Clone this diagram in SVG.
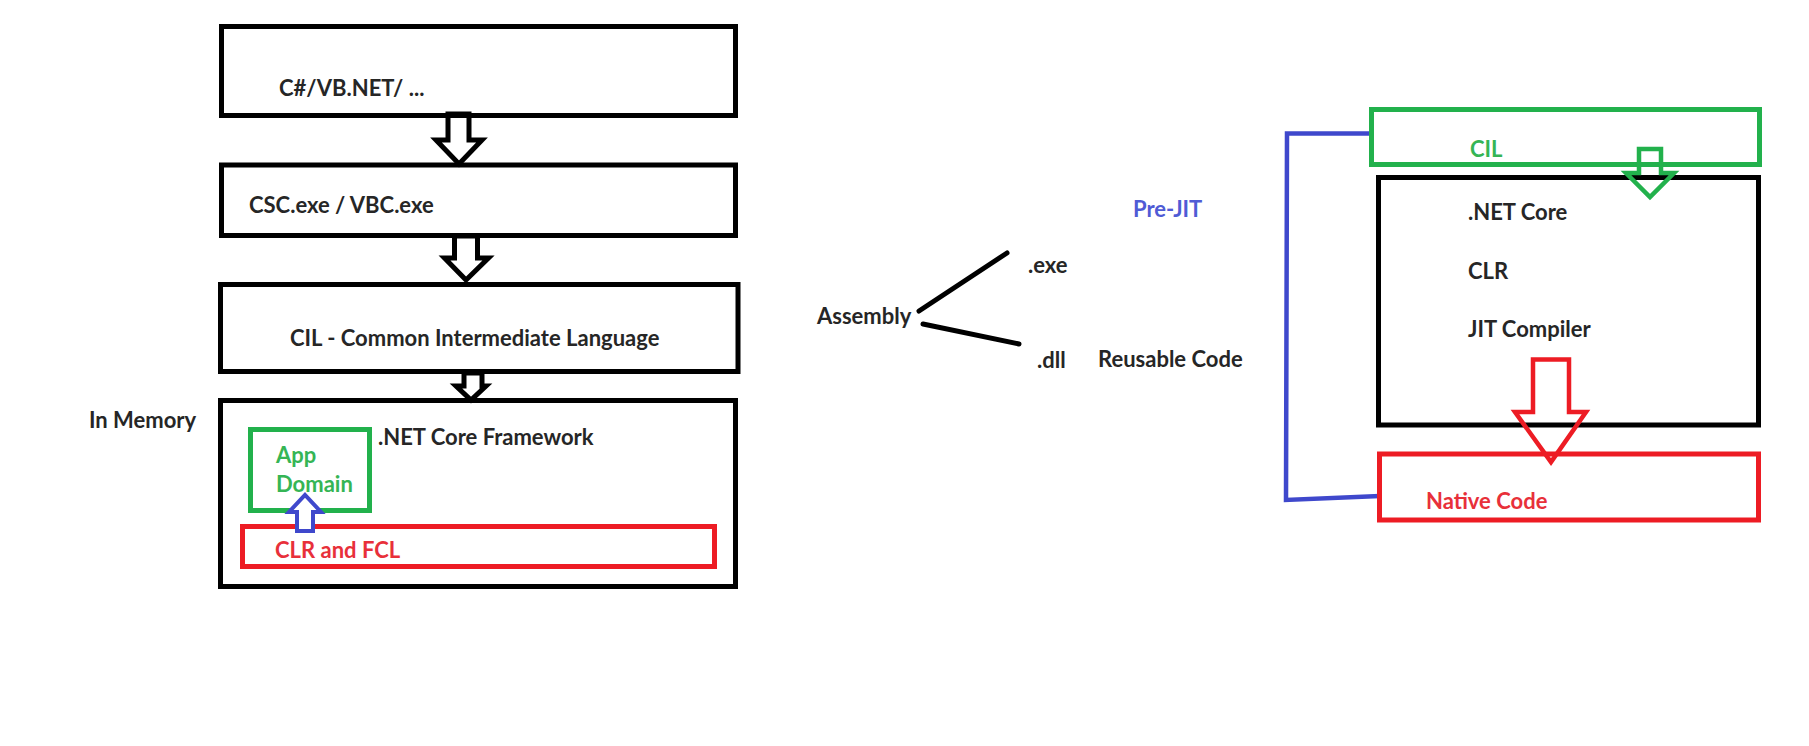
<svg xmlns="http://www.w3.org/2000/svg" width="1809" height="746" viewBox="0 0 1809 746">
<style>
.box{fill:none;stroke:#000;stroke-width:5}
.g{fill:none;stroke:#22b14c;stroke-width:5}
.r{fill:none;stroke:#ed1c24;stroke-width:5}
.barrow{fill:#fff;stroke:#000;stroke-width:5;stroke-linejoin:miter}
.t{font-family:Lato,"Liberation Sans",sans-serif;font-weight:700;font-size:22px;fill:#262626}
.tg{fill:#35b555}
.tr{fill:#e8303a}
.tb{fill:#4f5bd5}
</style>
<rect width="1809" height="746" fill="#fff"/>
<g id="connectors" fill="none" stroke-linecap="round">
<line x1="919" y1="311" x2="1007" y2="253" stroke="#000" stroke-width="5"/>
<line x1="923" y1="324" x2="1019" y2="344" stroke="#000" stroke-width="5"/>
<polyline points="1372,133.5 1287,133.5 1286,500 1380,496" stroke="#3f48cc" stroke-width="4.5" stroke-linecap="butt"/>
<polygon points="448,114 469,114 469,140 482,140 459,164 436,140 448,140" class="barrow"/>
<polygon points="454.5,236 477.5,236 477.5,258 488.5,258 466,280 444.5,258 454.5,258" class="barrow"/>
<polygon points="464,373 482,373 482,386 486,386 471,400 456,386 464,386" class="barrow"/>
</g>
<g id="source">
<rect x="221.5" y="26.5" width="514" height="89" class="box"/>
<text x="279" y="96" class="t">C#/VB.NET/ ...</text>
</g>
<g id="compiler">
<rect x="221.5" y="165" width="514" height="70.5" class="box"/>
<text x="249" y="213" class="t">CSC.exe / VBC.exe</text>
</g>
<g id="cil">
<rect x="220.5" y="284.5" width="517.5" height="87" class="box"/>
<text x="290" y="346" class="t">CIL - Common Intermediate Language</text>
</g>
<g id="in-memory-label">
<text x="89" y="428" class="t">In Memory</text>
</g>
<g id="framework">
<rect x="220.5" y="400.5" width="515" height="186" class="box"/>
<text x="378" y="445" class="t">.NET Core Framework</text>
</g>
<g id="app-domain">
<rect x="250.5" y="429.5" width="119" height="81" class="g"/>
<text x="276" y="463" class="t tg" font-size="23">App</text>
<text x="276" y="492" class="t tg" font-size="23">Domain</text>
</g>
<g id="clr-fcl">
<rect x="242.5" y="526.5" width="472" height="40" class="r"/>
<text x="275" y="558" class="t tr">CLR and FCL</text>
</g>
<g id="blue-arrow">
<polygon points="297,531 313,531 313,512 321,512 305,495 289,512 297,512" fill="#fff" stroke="#3f48cc" stroke-width="4"/>
</g>
<g id="assembly">
<text x="817" y="324" class="t">Assembly</text>
</g>
<g id="exe"><text x="1028" y="273" class="t">.exe</text></g>
<g id="dll"><text x="1037" y="368" class="t">.dll</text></g>
<g id="reusable"><text x="1098" y="367" class="t">Reusable Code</text></g>
<g id="prejit"><text x="1133" y="217" class="t tb">Pre-JIT</text></g>
<g id="cil-right">
<rect x="1371.5" y="109.5" width="388" height="55" class="g"/>
<text x="1470" y="157" class="t tg">CIL</text>
</g>
<g id="netcore">
<rect x="1378.5" y="177.5" width="380" height="247.5" class="box"/>
<text x="1468" y="220" class="t">.NET Core</text>
<text x="1468" y="279" class="t">CLR</text>
<text x="1468" y="337" class="t">JIT Compiler</text>
</g>
<g id="green-arrow">
<polygon points="1639,149 1661,149 1661,173 1674,173 1650,197 1626,173 1639,173" fill="none" stroke="#22b14c" stroke-width="4.5"/>
</g>
<g id="native">
<rect x="1379.5" y="454" width="379" height="66" class="r"/>
<text x="1426" y="509" class="t tr">Native Code</text>
</g>
<g id="red-arrow">
<polygon points="1533,359.5 1569,359.5 1569,412 1586,412 1551,462 1515,412 1533,412" fill="none" stroke="#ed1c24" stroke-width="4.5"/>
</g>
</svg>
